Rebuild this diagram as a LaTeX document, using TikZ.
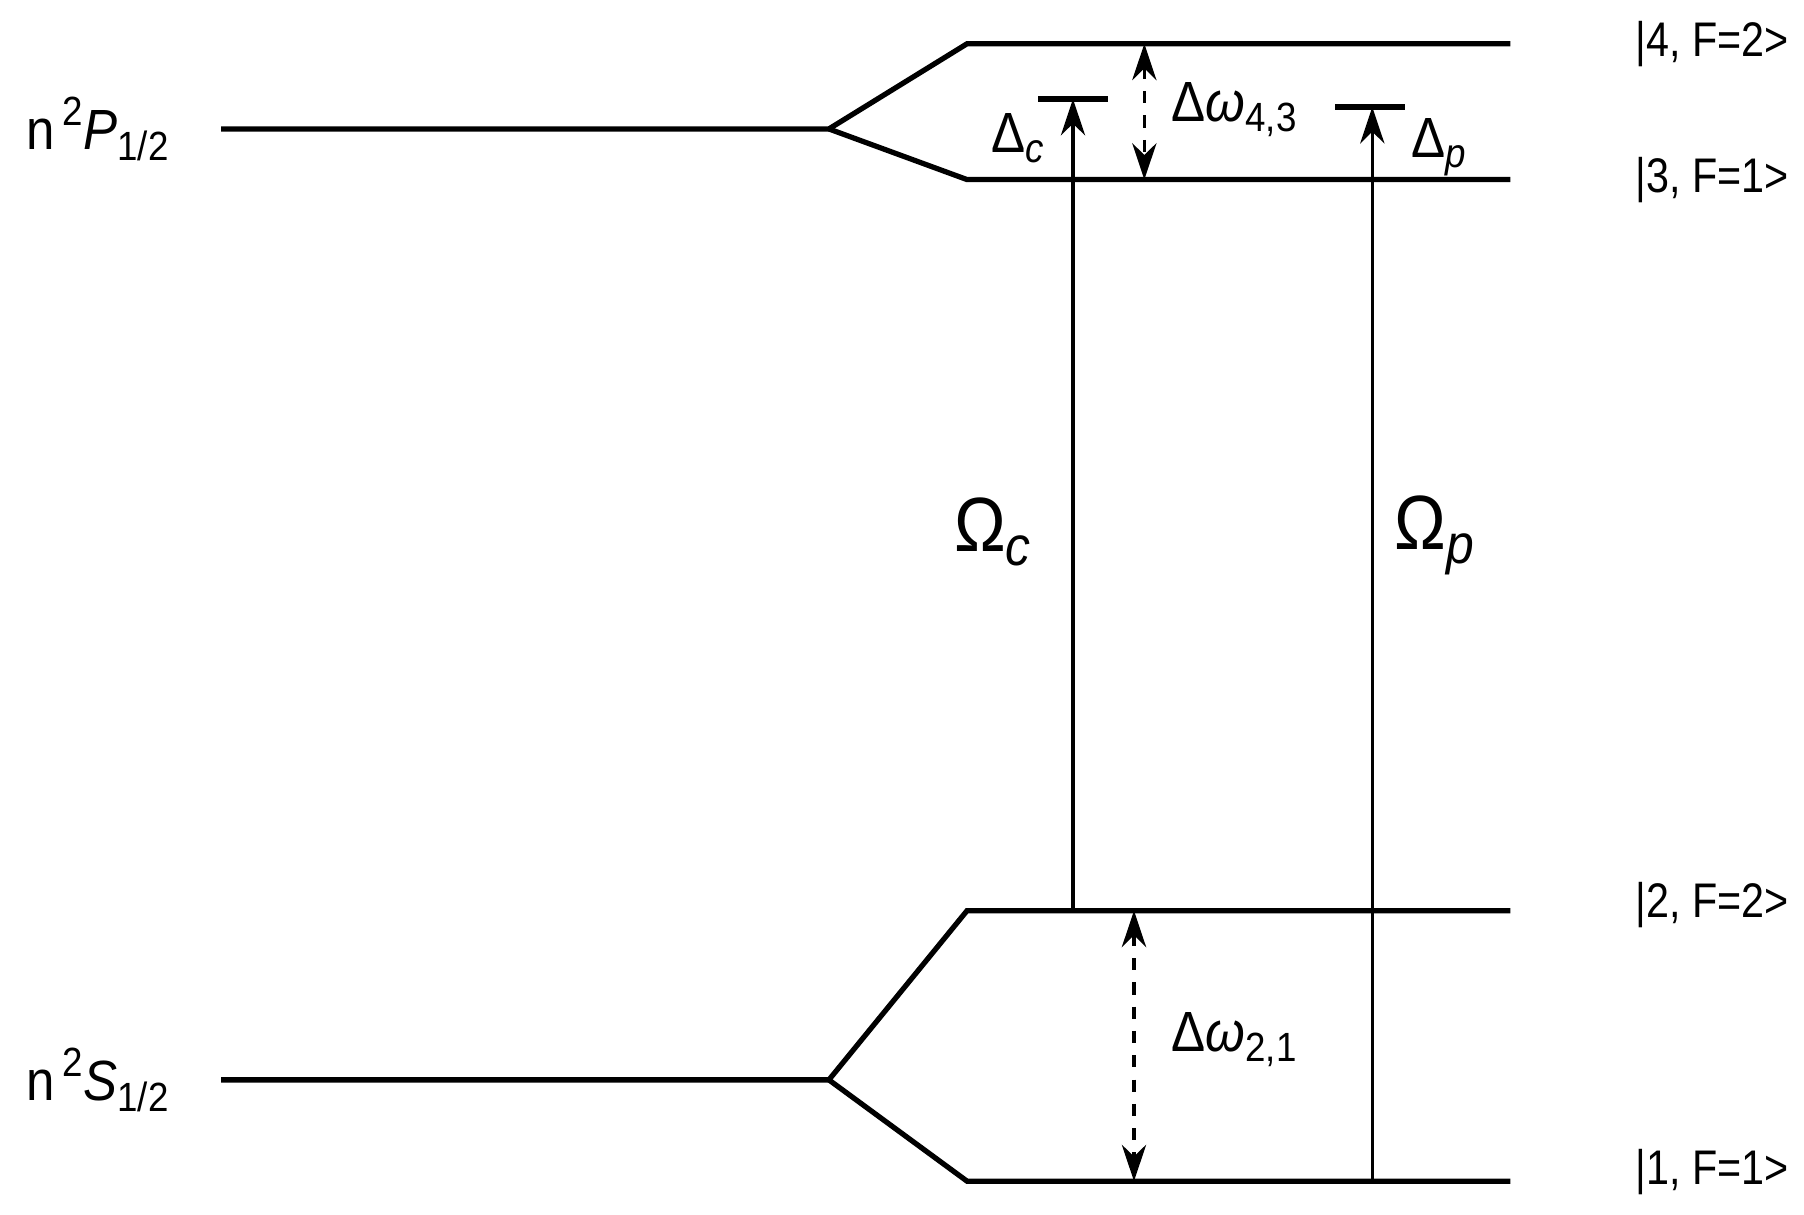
\documentclass[tikz,border=0pt]{standalone}
\usepackage{fontspec}
\setmainfont{Liberation Sans}
\usetikzlibrary{arrows.meta}
\newcommand{\sub}[1]{\raisebox{-0.35ex}{\fontsize{0.72em}{1em}\selectfont #1}}
\newcommand{\sups}[1]{\raisebox{0.8ex}{\fontsize{0.72em}{1em}\selectfont #1}}
\begin{document}
\begin{tikzpicture}[x=0.01cm,y=-0.01cm,
  lvl/.style={line width=1.3pt},
  tr/.style={line width=0.8pt,-{Stealth[length=9pt,width=6pt]}},
  dd/.style={line width=0.8pt,dashed,{Stealth[length=9pt,width=6pt]}-{Stealth[length=9pt,width=6pt]}},
  lab/.style={font=\fontsize{12}{14}\selectfont,inner sep=0pt,xscale=0.85},
  big/.style={font=\fontsize{14}{16}\selectfont,inner sep=0pt,xscale=0.9}]
\useasboundingbox (0,0) rectangle (1567,1055);
% levels
\coordinate (P0) at (192,112); \coordinate (Pm) at (720,112);
\coordinate (L4a) at (840,38); \coordinate (L4b) at (1312,38);
\coordinate (L3a) at (840,156); \coordinate (L3b) at (1312,156);
\coordinate (S0) at (192,938); \coordinate (Sm) at (720,938);
\coordinate (L2a) at (840,791); \coordinate (L2b) at (1312,791);
\coordinate (L1a) at (840,1026); \coordinate (L1b) at (1312,1026);
\draw[lvl] (P0) -- (Pm) -- (L4a) -- (L4b);
\draw[lvl] (Pm) -- (L3a) -- (L3b);
\draw[lvl] (S0) -- (Sm) -- (L2a) -- (L2b);
\draw[lvl] (Sm) -- (L1a) -- (L1b);
% labels
\node[big,anchor=west] (lp) at (22,112) {n\,\sups{2}\textit{P}\sub{1/2}};
\node[big,anchor=west] (ls) at (22,938) {n\,\sups{2}\textit{S}\sub{1/2}};
\node[lab,anchor=west] (k4) at (1420,38) {|4, F=2>};
\node[lab,anchor=west] (k3) at (1420,156) {|3, F=1>};
\node[lab,anchor=west] (k2) at (1420,786) {|2, F=2>};
\node[lab,anchor=west] (k1) at (1420,1018) {|1, F=1>};
% transitions
\coordinate (c0) at (932,791); \coordinate (c1) at (932,86);
\coordinate (p0) at (1192,1026); \coordinate (p1) at (1192,93);
\draw[tr] (c0) -- (c1);
\draw[tr] (p0) -- (p1);
\draw[line width=1.3pt] (902,86) -- (962,86);
\draw[line width=1.3pt] (1160,93) -- (1220,93);
\node[big] (dc) at (884,120) {Δ\sub{\textit{c}}};
\node[big] (dp) at (1250,128) {Δ\sub{\textit{p}}};
\node[big] (oc) at (862,462) {\fontsize{19}{21}\selectfont Ω\sub{\textit{c}}};
\node[big] (op) at (1246,465) {\fontsize{19}{21}\selectfont Ω\sub{\textit{p}}};
% splittings
\coordinate (a1) at (994,38); \coordinate (a2) at (994,156);
\coordinate (b1) at (985,791); \coordinate (b2) at (985,1026);
\draw[dd] (a1) -- (a2);
\draw[dd] (b1) -- (b2);
\node[big] (w43) at (1072,95) {Δ\textit{ω}\sub{4,3}};
\node[big] (w21) at (1072,903) {Δ\textit{ω}\sub{2,1}};
\end{tikzpicture}
\end{document}
